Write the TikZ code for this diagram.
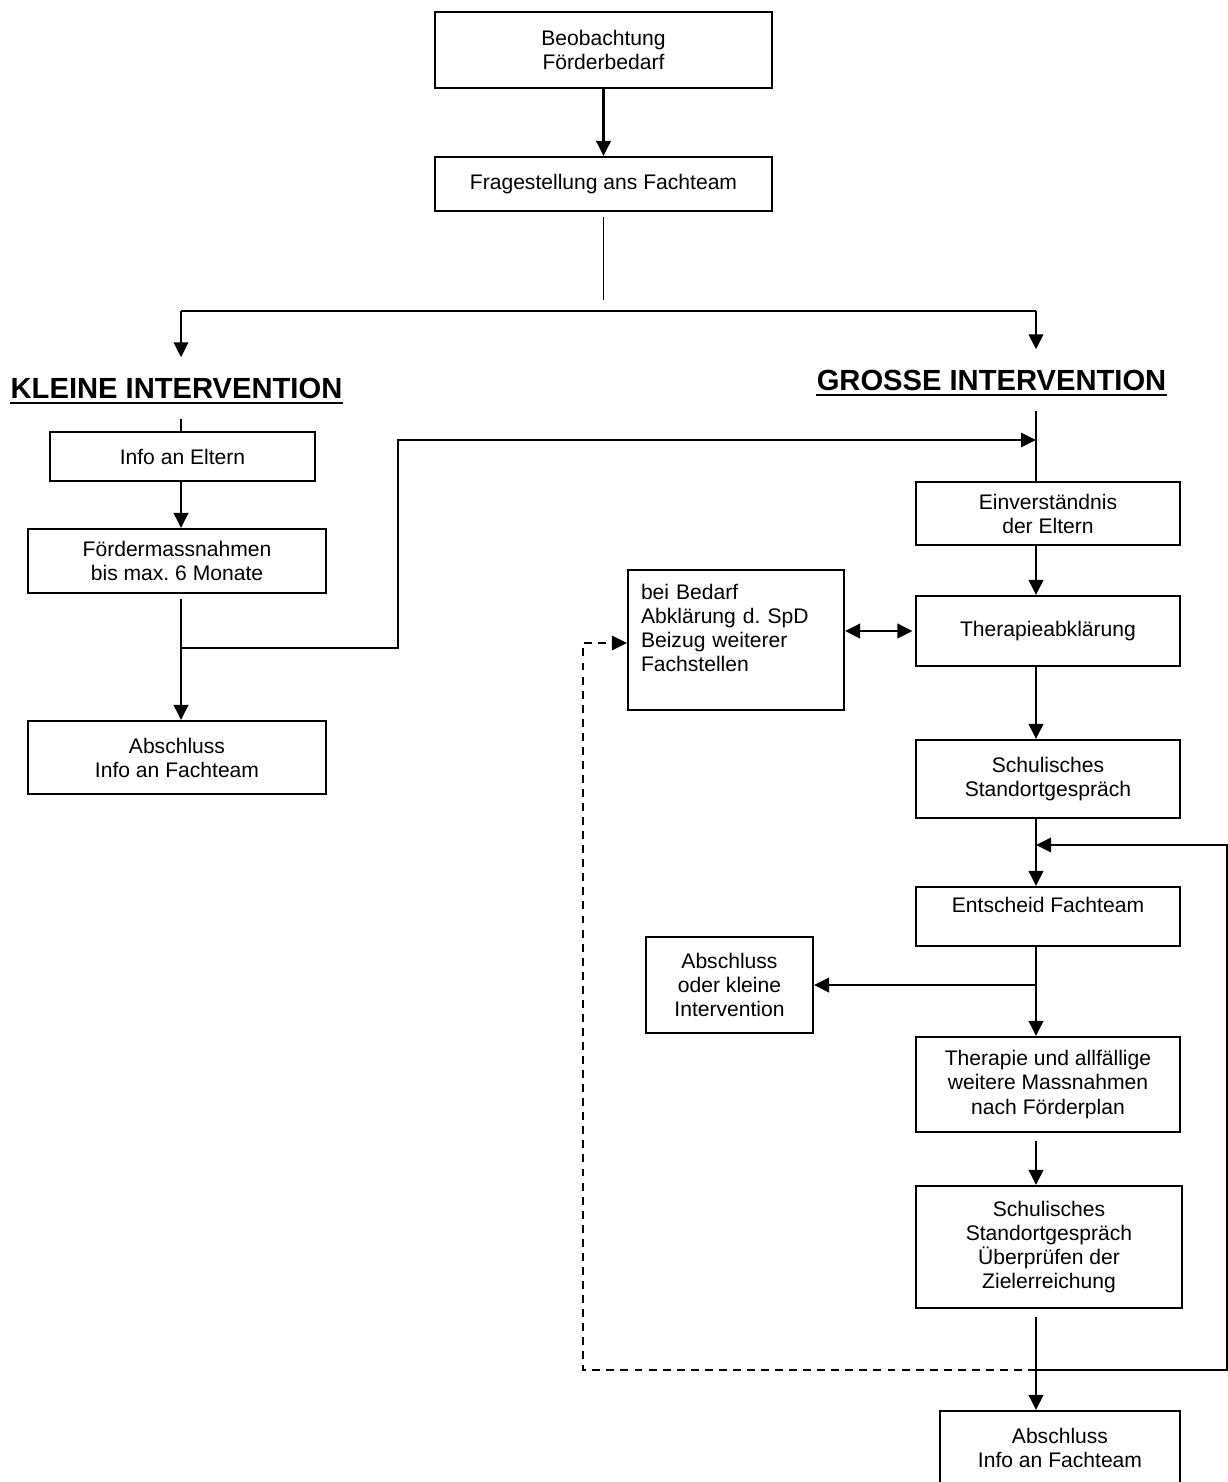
\documentclass[tikz,border=0pt]{standalone}
\usepackage{fontspec}
\setmainfont{Liberation Sans}
\usetikzlibrary{arrows.meta}
\tikzset{
    every node/.style={font=\fontsize{12}{13.7}\selectfont}
}
\tikzset{
    box/.style={rectangle, draw, line width=1.2pt, align=center, inner sep=0mm},
    head/.style={font=\fontsize{16.6}{18}\selectfont\bfseries, inner xsep=0mm, inner ysep=4mm},
    arr/.style={line width=1.2pt, -{Triangle[length=3mm, width=2.9mm]}},
    dbl/.style={line width=1.2pt, {Triangle[length=3mm, width=2.9mm]}-{Triangle[length=3mm, width=2.9mm]}},
    link/.style={line width=1pt}
}

\begin{document}
\begin{tikzpicture}[x=0.02cm, y=-0.02cm]
        \useasboundingbox (0,0) rectangle (1228,1482);
        \node (beob) [box, minimum width=6.74cm, minimum height=1.52cm] at (603.5,50) {Beobachtung\\Förderbedarf};
        \node (frage) [box, minimum width=6.74cm, minimum height=1.08cm] at (603.5,184) {Fragestellung ans Fachteam};
        \node (klein) [head, anchor=base] at (176.5,398) {KLEINE INTERVENTION};
        \node (gross) [head, anchor=base] at (991.5,390) {GROSSE INTERVENTION};
        \node (info) [box, minimum width=5.3cm, minimum height=0.98cm] at (182.5,456.5) {Info an Eltern};
        \node (foerder) [box, minimum width=5.96cm, minimum height=1.28cm] at (177,561) {Fördermassnahmen\\bis max.\ 6 Monate};
        \node (abschl) [box, minimum width=5.96cm, minimum height=1.46cm] at (177,757.5) {Abschluss\\Info an Fachteam};
        \node (ein) [box, minimum width=5.28cm, minimum height=1.26cm] at (1048,513.5) {Einverständnis\\der Eltern};
        \node (thab) [box, minimum width=5.28cm, minimum height=1.4cm] at (1048,631) {Therapieabklärung};
        \node (bed) [box, align=left, text width=3.8cm, minimum width=4.32cm, minimum height=2.8cm] at (736,640) {bei Bedarf\\Abklärung d.\ SpD\\Beizug weiterer\\Fachstellen\\\mbox{}};
        \node (std1) [box, minimum width=5.28cm, minimum height=1.56cm] at (1048,779) {Schulisches\\Standortgespräch};
        \node (ent) [box, minimum width=5.28cm, minimum height=1.18cm] at (1048,916.5) {Entscheid Fachteam\\\mbox{}};
        \node (abod) [box, minimum width=3.34cm, minimum height=1.92cm] at (729.5,985) {Abschluss\\oder kleine\\Intervention};
        \node (ther) [box, minimum width=5.28cm, minimum height=1.9cm] at (1048,1084.5) {Therapie und allfällige\\weitere Massnahmen\\nach Förderplan};
        \node (std2) [box, minimum width=5.32cm, minimum height=2.44cm] at (1049,1247) {Schulisches\\Standortgespräch\\Überprüfen der\\Zielerreichung};
        \node (absr) [box, minimum width=4.8cm, minimum height=1.48cm] at (1060,1448) {Abschluss\\Info an Fachteam};
        \coordinate (fork) at (603.5,300);
        \coordinate (kl) at (181,311);
        \coordinate (gr) at (1036,311);
        \coordinate (kbr) at (kl |- 0,648);
        \coordinate (gin) at (gr |- 0,440);
        \coordinate (ej) at (gr |- 0,845);
        \coordinate (ebr) at (gr |- abod.east);
        \coordinate (rj) at (gr |- 0,1370);
        % headings underlined
        \draw [line width=1.6pt] ([yshift=-1mm]klein.base west) -- ([yshift=-1mm]klein.base east);
        \draw [line width=1.6pt] ([yshift=-1mm]gross.base west) -- ([yshift=-1mm]gross.base east);
        \draw [arr] (beob) -- (frage);
        \draw [link] ([yshift=-1mm]frage.south) -- (fork);
        \draw [link] (kl) -- (gr);
        \draw [arr] (kl) -- (kl |- klein.north);
        \draw [arr] (gr) -- (gr |- gross.north);
        % kleine intervention
        \draw [link] (kl |- klein.south) -- (kl |- info.north);
        \draw [arr] (kl |- info.south) -- (kl |- foerder.north);
        \draw [arr] ([yshift=-1mm]kl |- foerder.south) -- (kl |- abschl.north);
        \draw [link, -{Triangle[length=3mm, width=2.9mm]}] (kbr) -- ++(217,0) |- (gin);
        % grosse intervention
        \draw [link] (gr |- gross.south) -- (gr |- ein.north);
        \draw [arr] (gr |- ein.south) -- (gr |- thab.north);
        \draw [dbl] (bed.east |- thab.west) -- ([xshift=-0.5mm]thab.west);
        \draw [arr] (gr |- thab.south) -- (gr |- std1.north);
        \draw [arr] (gr |- std1.south) -- (gr |- ent.north);
        \draw [arr] (gr |- ent.south) -- (gr |- ther.north);
        \draw [arr] (ebr) -- (abod.east);
        \draw [arr, shorten <=1.5mm] (gr |- ther.south) -- (gr |- std2.north);
        \draw [arr, shorten <=1.5mm] (gr |- std2.south) -- (gr |- absr.north);
        \draw [link, -{Triangle[length=3mm, width=2.9mm]}] (rj) -- ++(191,0) |- (ej);
        \draw [link, dash pattern=on 4.5pt off 3.5pt, -{Triangle[length=3mm, width=2.9mm]}] (rj) -- ++(-453,0) |- (bed.west |- 0,643);
\end{tikzpicture}
\end{document}
